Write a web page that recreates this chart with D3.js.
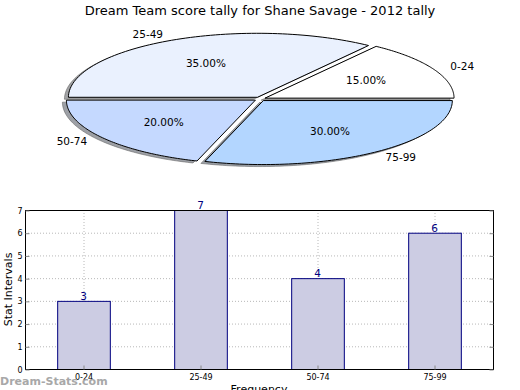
<!DOCTYPE html>
<html>
<head>
<meta charset="utf-8">
<script src="https://cdn.jsdelivr.net/npm/d3@7"></script>
<style>
  body { margin: 0; background: #fff; }
  text { font-family: "DejaVu Sans", sans-serif; }
</style>
</head>
<body>
<div id="chart"></div>
<script>
const width = 520;
const height = 390;

const categories = ["0-24", "25-49", "50-74", "75-99"];
const counts = [3, 7, 4, 6];
const sliceColors = ["#ffffff", "#eaf1fe", "#c5d9ff", "#b3d6ff"];
const yTicks = [0, 1, 2, 3, 4, 5, 6, 7];

const svg = d3
  .select("#chart")
  .append("svg")
  .attr("width", width)
  .attr("height", height);

svg
  .append("text")
  .attr("x", width / 2)
  .attr("y", 15)
  .attr("text-anchor", "middle")
  .style("font-size", "13px")
  .text("Dream Team score tally for Shane Savage - 2012 tally");

// ---- pie (squashed into an ellipse, like the original) ----
const cx = 260;
const cy = 99;
const rx = 189;
const ry = 64;
const explode = 0.03;

const total = d3.sum(counts);
const pie = d3
  .pie()
  .sort(null)
  .startAngle(Math.PI / 2)
  .endAngle(Math.PI / 2 - 2 * Math.PI);
const arcs = pie(counts);

// d3 angle -> screen point on the ellipse
const pt = (ox, oy, a, r) => [ox + rx * r * Math.sin(a), oy - ry * r * Math.cos(a)];
const line = d3.line();

function wedgePath(d, dx, dy) {
  const m = (d.startAngle + d.endAngle) / 2;
  const ox = cx + dx + rx * explode * Math.sin(m);
  const oy = cy + dy - ry * explode * Math.cos(m);
  const steps = 80;
  const pts = [[ox, oy]];
  for (let i = 0; i <= steps; i++) {
    const a = d.startAngle + ((d.endAngle - d.startAngle) * i) / steps;
    pts.push(pt(ox, oy, a, 1));
  }
  return line(pts) + "Z";
}

const pieG = svg.append("g");

// shadows first
pieG
  .selectAll("path.shadow")
  .data(arcs)
  .enter()
  .append("path")
  .attr("class", "shadow")
  .attr("d", (d) => wedgePath(d, -4, 2))
  .attr("fill", (d, i) => {
    const c = d3.rgb(sliceColors[i]);
    return d3.rgb(c.r * 0.3, c.g * 0.3, c.b * 0.3);
  })
  .attr("fill-opacity", 0.5)
  .attr("stroke", "#555")
  .attr("stroke-opacity", 0.5);

pieG
  .selectAll("path.wedge")
  .data(arcs)
  .enter()
  .append("path")
  .attr("class", "wedge")
  .attr("d", (d) => wedgePath(d, 0, 0))
  .attr("fill", (d, i) => sliceColors[i])
  .attr("stroke", "#000")
  .attr("stroke-width", 1)
  .attr("stroke-linejoin", "round");

// labels outside
pieG
  .selectAll("text.lbl")
  .data(arcs)
  .enter()
  .append("text")
  .attr("class", "lbl")
  .each(function (d, i) {
    const m = (d.startAngle + d.endAngle) / 2;
    const [x, y] = pt(cx, cy, m, explode + 1.1);
    d3.select(this)
      .attr("x", x)
      .attr("y", y)
      .attr("dy", "0.35em")
      .attr("text-anchor", x > cx ? "start" : "end")
      .style("font-size", "10.5px")
      .text(categories[i]);
  });

// percentages inside
pieG
  .selectAll("text.pct")
  .data(arcs)
  .enter()
  .append("text")
  .attr("class", "pct")
  .each(function (d) {
    const m = (d.startAngle + d.endAngle) / 2;
    const [x, y] = pt(cx, cy, m, explode + 0.6);
    d3.select(this)
      .attr("x", x)
      .attr("y", y)
      .attr("dy", "0.35em")
      .attr("text-anchor", "middle")
      .style("font-size", "10.5px")
      .text(((d.data / total) * 100).toFixed(2) + "%");
  });

// ---- bar chart ----
const plotLeft = 25;
const plotRight = 493;
const plotTop = 210;
const plotBottom = 369;

const xScale = d3
  .scaleBand()
  .domain(categories)
  .range([plotLeft, plotRight])
  .paddingInner(0.55)
  .paddingOuter(0.275);
const yScale = d3.scaleLinear().domain([0, 7]).range([plotBottom, plotTop]);

const grid = svg.append("g").attr("stroke", "#b8b8b8").attr("stroke-dasharray", "1,2");

grid
  .selectAll("line.h")
  .data(yTicks.slice(1, -1))
  .enter()
  .append("line")
  .attr("x1", plotLeft)
  .attr("x2", plotRight)
  .attr("y1", (d) => yScale(d) + 0.5)
  .attr("y2", (d) => yScale(d) + 0.5);

svg
  .selectAll("rect.bar")
  .data(counts)
  .enter()
  .append("rect")
  .attr("class", "bar")
  .attr("x", (d, i) => xScale(categories[i]) + 0.5)
  .attr("y", (d) => yScale(d) + 0.5)
  .attr("width", xScale.bandwidth())
  .attr("height", (d) => plotBottom - yScale(d))
  .attr("fill", "#ccccE3")
  .attr("stroke", "#00007f")
  .attr("stroke-width", 1);

grid
  .selectAll("line.v")
  .data(categories)
  .enter()
  .append("line")
  .attr("x1", (d) => xScale(d) + xScale.bandwidth() / 2 + 0.5)
  .attr("x2", (d) => xScale(d) + xScale.bandwidth() / 2 + 0.5)
  .attr("y1", plotTop)
  .attr("y2", plotBottom);

// frame
svg
  .append("rect")
  .attr("x", plotLeft + 0.5)
  .attr("y", plotTop + 0.5)
  .attr("width", plotRight - plotLeft)
  .attr("height", plotBottom - plotTop)
  .attr("fill", "none")
  .attr("stroke", "#000");

// y axis
const yAxis = d3
  .axisLeft(yScale)
  .tickValues(yTicks)
  .tickFormat(d3.format("d"))
  .tickSize(-4)
  .tickPadding(3);
svg
  .append("g")
  .attr("transform", `translate(${plotLeft + 0.5}, 0.5)`)
  .call(yAxis)
  .call((g) => g.select(".domain").remove())
  .call((g) => g.selectAll(".tick line").attr("stroke", "#888"))
  .call((g) => g.selectAll("text").style("font-size", "8px").attr("font-family", "DejaVu Sans"));

svg
  .append("g")
  .attr("transform", `translate(${plotRight + 0.5}, 0.5)`)
  .call(d3.axisRight(yScale).tickValues(yTicks).tickSize(-4).tickFormat(""))
  .call((g) => g.select(".domain").remove())
  .call((g) => g.selectAll(".tick line").attr("stroke", "#888"));

// x axis
const xAxis = d3.axisBottom(xScale).tickSize(-4).tickPadding(5);
svg
  .append("g")
  .attr("transform", `translate(0.5, ${plotBottom + 0.5})`)
  .call(xAxis)
  .call((g) => g.select(".domain").remove())
  .call((g) => g.selectAll(".tick line").attr("stroke", "#888"))
  .call((g) => g.selectAll("text").style("font-size", "8px").attr("font-family", "DejaVu Sans"));

// value labels
svg
  .selectAll("text.val")
  .data(counts)
  .enter()
  .append("text")
  .attr("class", "val")
  .attr("x", (d, i) => xScale(categories[i]) + xScale.bandwidth() / 2)
  .attr("y", (d) => yScale(d) - 1)
  .attr("text-anchor", "middle")
  .attr("fill", "#00007f")
  .style("font-size", "10.5px")
  .text((d) => d);

svg
  .append("text")
  .attr("transform", `translate(12, ${(plotTop + plotBottom) / 2}) rotate(-90)`)
  .attr("text-anchor", "middle")
  .style("font-size", "11px")
  .text("Stat Intervals");

svg
  .append("text")
  .attr("x", (plotLeft + plotRight) / 2)
  .attr("y", 393)
  .attr("text-anchor", "middle")
  .style("font-size", "11px")
  .text("Frequency");

svg
  .append("text")
  .attr("x", 0)
  .attr("y", 385)
  .attr("fill", "#a8a8a8")
  .style("font-size", "11px")
  .style("font-weight", "bold")
  .text("Dream-Stats.com");
</script>
</body>
</html>
